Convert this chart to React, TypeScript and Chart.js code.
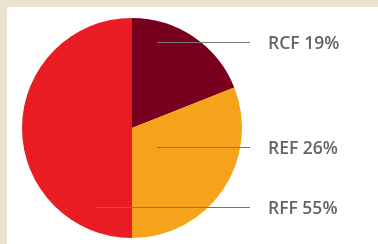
import React, { useEffect, useRef } from "react";
import { Chart, registerables } from "chart.js";

Chart.register(...registerables);

const categories = ["RCF", "REF", "RFF"];
const labelPercents = [19, 26, 55];
// angular share of each slice as drawn in the picture
const sliceShares = [19, 31, 50];
const sliceColors = ["#78001e", "#f5a31b", "#e91c24"];

// leader line layout: offsets relative to pie centre
const leaderStartDx = [25, 25, -37];
const leaderDy = [-86, 19, 79];
const leaderEndX = 250;
const textX = 268;

const leaderPlugin = {
  id: "leaders",
  afterDatasetsDraw(chart: any) {
    const ctx = chart.ctx as CanvasRenderingContext2D;
    const meta = chart.getDatasetMeta(0);
    const arc = meta.data[0];
    const cx = arc.x;
    const cy = arc.y;
    ctx.save();
    categories.forEach((c, i) => {
      const y = Math.round(cy + leaderDy[i]) + 0.5;
      ctx.strokeStyle = "#767676";
      ctx.lineWidth = 1;
      ctx.beginPath();
      ctx.moveTo(cx + leaderStartDx[i], y);
      ctx.lineTo(leaderEndX, y);
      ctx.stroke();
      ctx.fillStyle = "#646464";
      ctx.font = "600 17.5px 'Open Sans'";
      ctx.textBaseline = "middle";
      ctx.textAlign = "left";
      ctx.fillText(`${c} ${labelPercents[i]}%`, textX, y + 2);
    });
    ctx.restore();
  },
};

export default function App() {
  const ref = useRef<HTMLCanvasElement>(null);
  useEffect(() => {
    document.body.style.margin = "0";
    const chart = new Chart(ref.current!, {
      type: "pie",
      data: {
        labels: categories,
        datasets: [
          {
            data: sliceShares,
            backgroundColor: sliceColors,
            borderWidth: 0,
          },
        ],
      },
      options: {
        animation: false,
        responsive: false,
        layout: { padding: { left: 22, right: 136, top: 18, bottom: 6 } },
        plugins: { legend: { display: false }, tooltip: { enabled: false } },
      },
      plugins: [leaderPlugin],
    });
    return () => chart.destroy();
  }, []);
  return (
    <div style={{ position: "relative", width: 378, height: 244, background: "#ece3cf", overflow: "hidden" }}>
      <div style={{ position: "absolute", left: 7, top: 7, right: 0, bottom: 0, background: "#ffffff" }} />
      <canvas ref={ref} width={378} height={244} style={{ position: "absolute", left: 0, top: 0 }} />
    </div>
  );
}
